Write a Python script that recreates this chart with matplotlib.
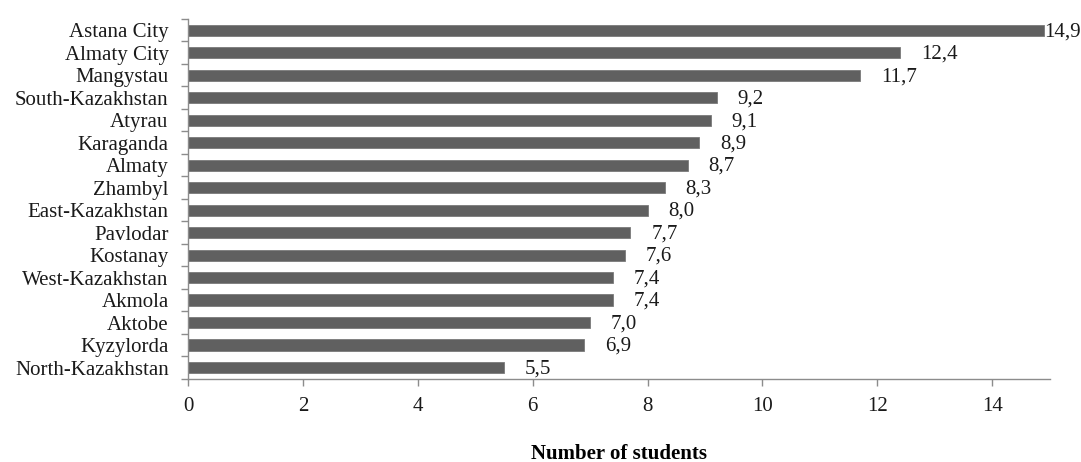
import matplotlib
matplotlib.use("Agg")
import matplotlib.pyplot as plt
import numpy as np

# Regions, top to bottom, and their values
regions = [
    "Astana City", "Almaty City", "Mangystau", "South-Kazakhstan", "Atyrau",
    "Karaganda", "Almaty", "Zhambyl", "East-Kazakhstan", "Pavlodar",
    "Kostanay", "West-Kazakhstan", "Akmola", "Aktobe", "Kyzylorda",
    "North-Kazakhstan",
]
students = [14.9, 12.4, 11.7, 9.2, 9.1, 8.9, 8.7, 8.3, 8.0, 7.7, 7.6, 7.4, 7.4, 7.0, 6.9, 5.5]
xticks = [0, 2, 4, 6, 8, 10, 12, 14]

plt.rcParams["font.family"] = ["Liberation Serif", "DejaVu Serif"]
axis_grey = "#8c8c8c"
bar_grey = "#606060"
fs = 15

fig = plt.figure(figsize=(10.81, 4.62), dpi=100)
ax = fig.add_axes([0.174, 0.180, 0.797, 0.779])

n = len(regions)
ypos = np.arange(n)[::-1]
ax.barh(ypos, students, height=0.5, color=bar_grey, edgecolor="#7a7a7a", linewidth=0.6)

ax.set_xlim(0, 15)
ax.set_ylim(-0.5, n - 0.5)

# category labels without ticks, tick marks between categories
ax.set_yticks(ypos)
ax.set_yticklabels(regions, fontsize=fs, color="#1a1a1a")
ax.tick_params(axis="y", length=0, pad=14)
ax.set_yticks(np.arange(n + 1) - 0.5, minor=True)
ax.tick_params(axis="y", which="minor", length=5, color=axis_grey, width=1)

ax.set_xticks(xticks)
ax.set_xticklabels([str(t) for t in xticks], fontsize=fs, color="#1a1a1a")
ax.tick_params(axis="x", length=5, color=axis_grey, width=1, pad=8)

for side in ["top", "right"]:
    ax.spines[side].set_visible(False)
for side in ["left", "bottom"]:
    ax.spines[side].set_color(axis_grey)
    ax.spines[side].set_linewidth(1)

# value labels, written with decimal comma
vmax = max(students)
for y, v in zip(ypos, students):
    off = 0 if v == vmax else 15
    ax.annotate(f"{v:.1f}".replace(".", ","), xy=(v, y), xytext=(off, -1),
                textcoords="offset points", ha="left", va="center",
                fontsize=fs, color="#1a1a1a", annotation_clip=False)

ax.set_xlabel("Number of students", fontsize=fs, fontweight="bold", labelpad=20)

fig.savefig("out.png", dpi=100)
